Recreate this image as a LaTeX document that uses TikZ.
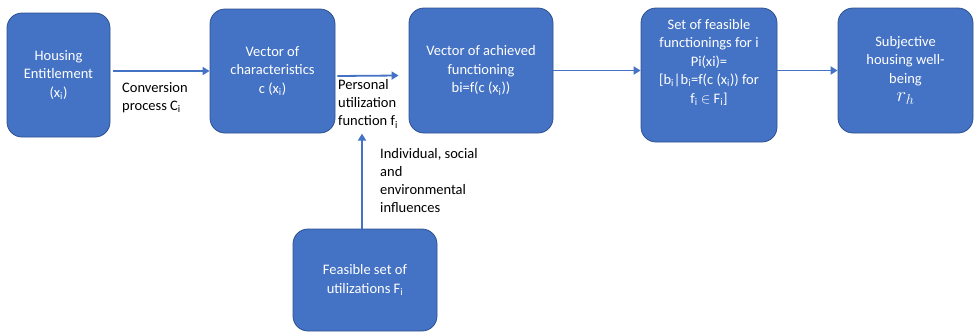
\documentclass[tikz,border=0pt]{standalone}
\usepackage{fontspec}
\setmainfont{Carlito}
\usepackage{tikz}
\usetikzlibrary{calc, positioning, arrows.meta}
\definecolor{boxblue}{HTML}{4472C4}
\definecolor{edgeblue}{HTML}{2F528F}
\tikzset{>=latex}
\tikzset{blockbox/.style = {draw = edgeblue, line width = 0.8pt, fill = boxblue, rounded corners = 15pt,
    text = white, align = center, inner sep = 2pt,
    font = \fontsize{14.5}{18.5}\selectfont},
  flowarrow/.style = {draw = boxblue, line width = 1.8pt, -{Triangle[width = 8pt, length = 7pt]}},
  sidetext/.style = {align = left, inner sep = 0pt, anchor = west,
    font = \fontsize{14.5}{18}\selectfont}}

\begin{document}
\begin{tikzpicture}[x = 1pt, y = -1pt]
\useasboundingbox (0,0) rectangle (975,333);
% boxes
\node[blockbox, minimum width = 103pt, minimum height = 124pt] (hous) at (58.5, 75) {Housing\\Entitlement\\(x\textsubscript{i})};
\node[blockbox, minimum width = 125pt, minimum height = 124pt] (char) at (272.5, 71) {Vector of\\characteristics\\c (x\textsubscript{i})};
\node[blockbox, minimum width = 144pt, minimum height = 125pt] (achv) at (481, 70.5) {Vector of achieved\\functioning\\bi=f(c (x\textsubscript{i}))};
\node[blockbox, minimum width = 136pt, minimum height = 134pt] (setbox) at (709, 75) {};
\node[blockbox, draw = none, fill = none, anchor = north] (settext) at ($(setbox.north)+(0,9)$) {Set of feasible\\functionings for i\\Pi(xi)=\\{}[b\textsubscript{i}|b\textsubscript{i}=f(c (x\textsubscript{i})) for\\f\textsubscript{i} \ensuremath{\in} F\textsubscript{i}]};
\node[blockbox, minimum width = 135pt, minimum height = 125pt] (subj) at (905.5, 70.5) {Subjective\\housing well-\\being\\{\fontsize{20}{20}\selectfont$r_h$}};
\node[blockbox, minimum width = 144pt, minimum height = 102pt] (feas) at (365, 280) {Feasible set of\\utilizations F\textsubscript{i}};
% arrows
\draw[flowarrow, shorten <= 3pt] (hous.east |- char.west) -- (char.west);
\draw[flowarrow] ($(char.east)+(2,5)$) -- ($(achv.west)+(-10,5)$);
\draw[flowarrow] (achv.east) -- (achv.east -| setbox.west);
\draw[flowarrow] (setbox.east |- subj.west) -- (subj.west);
\coordinate (pufn) at ($(feas.north)+(-3,-95)$);
\draw[flowarrow] ($(feas.north)+(-3,0)$) -- (pufn);
% labels
\node[sidetext] (conv) at (122, 98) {Conversion\\process C\textsubscript{i}};
\node[sidetext] (pers) at (338, 104) {Personal\\utilization\\function f\textsubscript{i}};
\node[sidetext] (infl) at (380, 180.5) {Individual, social\\and\\environmental\\influences};
\end{tikzpicture}
\end{document}
